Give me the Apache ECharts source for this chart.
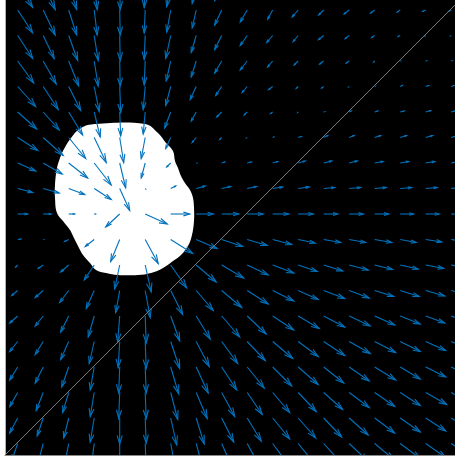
<!DOCTYPE html>
<html>
<head>
<meta charset="utf-8">
<title>Vector field</title>
<script src="https://cdn.jsdelivr.net/npm/echarts@6/dist/echarts.min.js"></script>
<style>
  html, body { margin: 0; padding: 0; background: #ffffff; }
  #chart { width: 455px; height: 459px; }
</style>
</head>
<body>
<div id="chart"></div>
<script>
// Grid positions of the quiver samples (data units, y pointing up)
const colX = [12.7, 38.2, 63.7, 89.2, 114.7, 140.2, 165.7, 191.2, 216.7, 242.2, 267.7, 293.2, 318.7, 344.2, 369.7, 395.2, 420.7, 446.2];
const rowY = [470.5, 445, 419.5, 394, 368.5, 343, 317.5, 292, 266.5, 241, 215.5, 190, 164.5, 139, 113.5, 88, 62.5, 37, 11.5];

// Horizontal vector components, one row per entry of rowY
const U = [
  [15, 12, 8, 3, 0.5, -1, -4, -4, -7, -7, -6, -6, -5, -5, -4, -3, -3, -2],
  [15, 12, 8, 3, 0.5, -1, -4, -4, -7, -7, -5, -6, -5, -5, -4, -3, -3, -2],
  [15, 11, 9, 4, 0.5, -1, -5, -5, -7, -7, -6, -5, -5, -4, -3, -2, -1, -0.5],
  [16, 13, 10, 4, 0.5, -1, -4.5, -5, -7, -7, -5, -4, -4, -3, -1, 0.5, 1, 1],
  [18, 15, 12, 5, 1, -2, -5, -6, -6, -5, -4, -2, -2, -0.5, 0.5, 2, 3, 3],
  [19, 16, 14, 6, 1, -2, -6, -5, -5, -3, -2, -0.5, 1, 2, 3, 4, 5, 5],
  [20, 20, 17, 12, 4, -4, -5, -4, -2, -0.5, 1, 3, 4, 5, 6, 6.5, 7, 7],
  [18, 19, 19, 17, 6, -4, -4, 0.5, 3, 4, 5, 7, 8, 8, 8.5, 8.5, 9, 9],
  [15, 16, 16, 17, 10, 0.3, 5, 9, 9, 9.5, 10, 11, 11, 11.5, 11.5, 11.5, 11.5, 11.5],
  [10, 8, 6, 1, -14, 22, 19, 17, 17, 16, 16, 15, 14, 14, 14, 13.5, 13.5, 13.5],
  [3, 0.3, -4, -9, -9, 13, 22, 21, 21, 20, 19, 17, 17, 16.5, 17, 16, 16, 16],
  [-2, -5, -8, -10, -5, 6, 16, 20, 22, 21, 21, 19, 19, 19, 18, 18, 18, 17],
  [-6, -8, -9, -8, -4, 5, 12, 17, 20, 21, 21, 20, 21, 20, 19, 19, 19, 19],
  [-8, -8, -8, -6, -2, 1, 9, 14, 18, 19, 21, 21, 21, 21, 20, 20, 19, 19],
  [-8, -8, -8, -5, -1.5, 1, 9, 13, 16, 18, 20, 20, 21, 21, 21, 20, 20, 20],
  [-8, -8, -7, -4, -1, 1, 8, 12, 15, 17, 19, 20, 20, 20, 21, 20, 20, 20],
  [-8, -7, -6, -4, -1, 1, 7, 11, 13, 15, 17, 18, 19, 20, 20, 20, 21, 21],
  [-8, -6, -5, -4, 0, 1, 6, 8, 12, 14, 17, 17.5, 18, 19, 20, 20, 20, 20],
  [-6, -5, -4, -3, 0, 1, 5, 7, 11, 13, 16, 17, 18, 19, 19, 20, 20, 20]
];

// Vertical vector components (positive = up)
const V = [
  [-23, -25, -25, -25, -25, -23, -22, -19, -16, -13, -10, -8, -6, -5, -4, -3, -2, -1.5],
  [-23, -25, -25, -25, -25, -23, -22, -18, -15, -12, -9, -7, -5, -4, -3, -2, -1.5, -1],
  [-23, -23, -25, -25, -25, -24, -23, -17, -14, -10, -7, -6, -4, -3, -2, -1, -0.5, -0.3],
  [-22, -23, -25, -25, -25, -24, -20, -16, -12, -9, -6, -4, -3, -2, -1, 0, 0.3, 0.3],
  [-20, -23, -24, -25, -26, -23, -19, -13, -9, -6, -3, -2, -1.5, -0.3, 0.2, 1, 1, 1],
  [-17, -18, -23, -25, -24, -22, -16, -9, -5, -3, -1.5, -0.5, 0.3, 1, 1, 1, 1.5, 1.5],
  [-13, -18, -21, -25, -25, -21, -11, -5, -2, -0.3, 0.5, 1, 2, 2, 2, 2, 2, 2],
  [-8, -11, -15, -22, -25, -15, -4, 0, 1, 1, 1.5, 2, 2, 2, 1.5, 1.5, 1.5, 1.5],
  [-4, -4.5, -6, -11, -22, -0.3, 2.5, 2.5, 2, 2, 1.5, 1.5, 1, 1, 1, 1, 1, 1],
  [0, 0, 0, 0, -13, -10, 0, 0, 0, 0, 0, 0, 0, 0, 0, 0, 0, 0],
  [0.5, 0, -2, -7, -22, -24, -14, -9, -7, -6, -5, -3.5, -3, -3, -3, -3, -2.5, -2.5],
  [-2, -3.5, -7, -15, -24, -27, -23, -17, -13, -10, -8, -6.5, -6, -5, -4.5, -4, -3.5, -3],
  [-5, -7, -12, -18, -22, -27, -24, -20, -17, -13.5, -10.5, -9, -8, -7.5, -6, -6, -5.5, -5],
  [-7, -10, -16, -21, -26, -27, -25, -23, -21, -18, -14, -12.5, -11, -10, -9, -8, -7, -7],
  [-10, -13, -18, -22, -26, -27, -27, -25, -22, -19, -17, -15, -14, -12, -11, -10, -9, -8.5],
  [-13, -16, -20, -23, -26, -26, -27, -26, -23, -21, -19, -17.5, -16, -14, -13, -12, -10, -10],
  [-14, -18, -20, -24, -26, -26, -27, -26, -24, -22, -20, -19, -17, -15, -14, -13, -12, -11.5],
  [-15, -18, -20, -24, -26, -25, -27, -26, -24, -23, -21, -20, -19, -17, -15, -14, -13, -12.5],
  [-17, -19, -21, -24, -26, -25, -27, -26, -25, -24, -22, -21, -20, -18, -16, -15, -14, -13]
];

// Outline of the white region
const blobX = [90, 140, 153, 161, 168, 170, 173, 176, 180, 185, 188, 189, 189, 187, 183, 176, 168, 158, 146, 133, 113, 101, 91, 85, 78, 73, 68, 65, 58, 52, 50, 50, 52, 55, 58, 66, 76];
const blobY = [331, 331, 322, 312, 304, 294, 287, 279, 272, 265, 257, 247, 234, 220, 209, 200, 194, 187, 182, 180, 180, 182, 185, 192, 200, 209, 219, 225, 234, 242, 257, 270, 287, 297, 304, 317, 327];

// Reference diagonal y = x
const diagX = [0, 450];
const diagY = [0, 450];

const ARROW_COLOR = '#0072BD';

const arrowData = [];
rowY.forEach((y, r) => {
  colX.forEach((x, c) => {
    arrowData.push([x, y, U[r][c], V[r][c]]);
  });
});

const chart = echarts.init(document.getElementById('chart'), null, { renderer: 'canvas' });

chart.setOption({
  animation: false,
  backgroundColor: '#ffffff',
  grid: {
    left: 5, right: 0, top: 0, bottom: 4,
    show: true, backgroundColor: '#000000', borderWidth: 0
  },
  xAxis: {
    type: 'value', min: 0, max: 450,
    axisLine: { show: true, onZero: false, lineStyle: { color: '#8a8a8a', width: 1 } },
    axisTick: { show: false }, axisLabel: { show: false }, splitLine: { show: false }
  },
  yAxis: {
    type: 'value', min: 0, max: 455,
    axisLine: { show: true, onZero: false, lineStyle: { color: '#b0b0b0', width: 1 } },
    axisTick: { show: false }, axisLabel: { show: false }, splitLine: { show: false }
  },
  series: [
    {
      type: 'custom',
      name: 'region',
      clip: true,
      silent: true,
      data: [0],
      renderItem: function (params, api) {
        const pts = blobX.map((bx, i) => api.coord([bx, blobY[i]]));
        return {
          type: 'polygon',
          shape: { points: pts, smooth: 0.4 },
          style: { fill: '#ffffff', stroke: null }
        };
      }
    },
    {
      type: 'line',
      name: 'diagonal',
      data: diagX.map((d, i) => [d, diagY[i]]),
      symbol: 'none',
      silent: true,
      lineStyle: { color: '#7a7a7a', width: 1 }
    },
    {
      type: 'custom',
      name: 'field',
      clip: true,
      silent: true,
      data: arrowData,
      renderItem: function (params, api) {
        const x = api.value(0), y = api.value(1);
        const u = api.value(2), v = api.value(3);
        const p0 = api.coord([x, y]);
        const p1 = api.coord([x + u, y + v]);
        const dx = p1[0] - p0[0], dy = p1[1] - p0[1];
        const a = 0.33, b = 0.3;
        const h1 = [p1[0] - a * (dx + b * dy), p1[1] - a * (dy - b * dx)];
        const h2 = [p1[0] - a * (dx - b * dy), p1[1] - a * (dy + b * dx)];
        const st = { stroke: ARROW_COLOR, lineWidth: 1.1, fill: null, lineJoin: 'miter' };
        return {
          type: 'group',
          children: [
            { type: 'polyline', shape: { points: [p0, p1] }, style: st },
            { type: 'polyline', shape: { points: [h1, p1, h2] }, style: st }
          ]
        };
      }
    }
  ]
});
</script>
</body>
</html>
